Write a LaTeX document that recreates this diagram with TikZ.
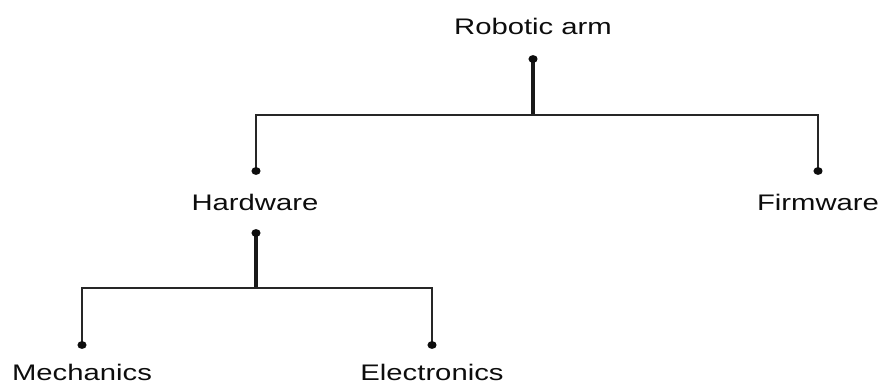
\documentclass[tikz,border=0pt]{standalone}
\usepackage{fontspec}
\setmainfont{Liberation Sans}[FakeStretch=1.3]
\usetikzlibrary{positioning}

\begin{document}
\begin{tikzpicture}[x=1pt, y=1pt,
    lbl/.style={font=\fontsize{22.5}{26}\selectfont, anchor=base, inner sep=0pt, text=black!95},
    stem/.style={line width=3.2pt, black!90},
    branch/.style={line width=2.2pt, black!85}]
    \useasboundingbox (0,0) rectangle (882,383);
    \clip (0,0) rectangle (882,383);
    \fill[white] (0,0) rectangle (882,383);

    % Labels
    \node[lbl] (arm) at (533,348) {Robotic arm};
    \node[lbl] (hw) at (255,172) {Hardware};
    \node[lbl] (fw) at (818,172) {Firmware};
    \node[lbl] (mech) at (82,3) {Mechanics};
    \node[lbl] (elec) at (432,3) {Electronics};

    % Dots and junctions
    \coordinate (arm-d) at (533,324);
    \coordinate (arm-j) at (533,268);
    \coordinate (hw-t) at (256,212);
    \coordinate (fw-t) at (818,212);
    \coordinate (hw-d) at (256,150);
    \coordinate (hw-j) at (256,95);
    \coordinate (mech-t) at (82,38);
    \coordinate (elec-t) at (432,38);

    % Robotic arm -> Hardware, Firmware
    \draw[stem] (arm-d) -- (arm-j);
    \draw[branch] (hw-t) |- (arm-j) -| (fw-t);

    % Hardware -> Mechanics, Electronics
    \draw[stem] (hw-d) -- (hw-j);
    \draw[branch] (mech-t) |- (hw-j) -| (elec-t);

    \foreach \c in {arm-d, hw-t, fw-t, hw-d, mech-t, elec-t} {
        \fill[black!95] (\c) ellipse (4.6 and 3.9);
    }
\end{tikzpicture}
\end{document}
